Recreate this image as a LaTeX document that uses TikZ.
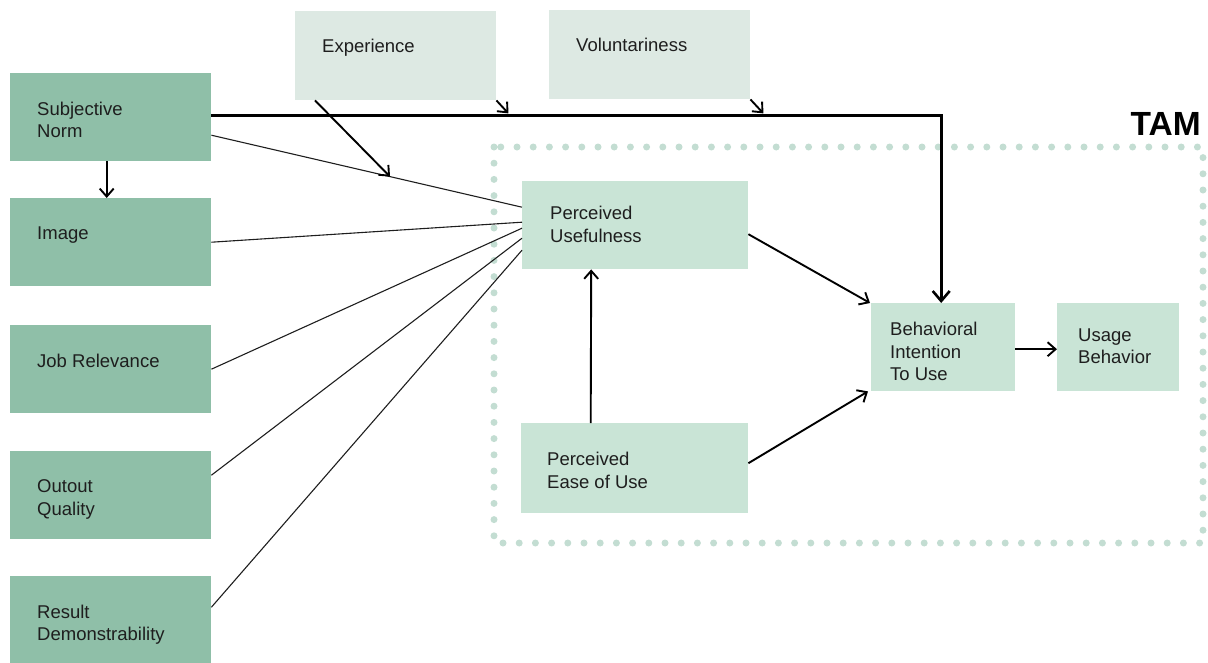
\documentclass[tikz,border=0pt]{standalone}
\usepackage{fontspec}
\setmainfont{Liberation Sans}
\usetikzlibrary{arrows.meta,calc}
\definecolor{leftgreen}{HTML}{8FBFA8}
\definecolor{topgreen}{HTML}{DDE9E3}
\definecolor{tamgreen}{HTML}{C9E4D6}
\definecolor{dotgreen}{HTML}{C3DDD2}
\definecolor{ink}{HTML}{1E1E1E}
\begin{document}
\begin{tikzpicture}[x=1pt,y=-1pt,
  lbl/.style={text=ink, font=\fontsize{18.5}{22.5}\selectfont, anchor=north west,
    inner sep=0pt, align=left},
  shape base/.style={rectangle, anchor=north west, inner sep=0pt},
  leftbox/.style={shape base, fill=leftgreen, minimum width=201pt, minimum height=88pt},
  topbox/.style={shape base, fill=topgreen, minimum width=201pt, minimum height=89pt},
  tambox/.style={shape base, fill=tamgreen},
  thin/.style={draw=ink, line width=1.1pt},
  arr/.style={draw=black, line width=1.9pt, -{Straight Barb[length=8pt,width=14pt,line width=1.9pt]}},
  bigarr/.style={draw=black, line width=3pt, -{Straight Barb[length=10pt,width=17pt,line width=2.6pt]}},
  dotted border/.style={draw=dotgreen, line width=7pt, line cap=round,
    dash pattern=on 0pt off 16.2pt}
]
\useasboundingbox (0,0) rectangle (1208,662);

% TAM frame
\draw[dotted border] (494,147) rectangle (1203,543);
\node[anchor=north east, inner sep=0pt, text=black,
  font=\fontsize{33.5}{33.5}\bfseries\selectfont] (tam) at (1201,112) {TAM};

% external variables
\node[leftbox] (sn)  at (10,73)  {};
\node[leftbox] (img) at (10,198) {};
\node[leftbox] (jr)  at (10,325) {};
\node[leftbox] (oq)  at (10,451) {};
\node[leftbox] (rd)  at (10,576) {};
\node[lbl] (snt)  at ($(sn.north west)+(27,28.5)$)  {Subjective\\Norm};
\node[lbl] (imgt) at ($(img.north west)+(27,28.5)$) {Image};
\node[lbl] (jrt)  at ($(jr.north west)+(27,28.5)$)  {Job Relevance};
\node[lbl] (oqt)  at ($(oq.north west)+(27,28.5)$)  {Outout\\Quality};
\node[lbl] (rdt)  at ($(rd.north west)+(27,28.5)$)  {Result\\Demonstrability};

% moderators
\node[topbox] (exp) at (295,11) {};
\node[topbox] (vol) at (549,10) {};
\node[lbl] (expt) at ($(exp.north west)+(27,27.5)$) {Experience};
\node[lbl] (volt) at ($(vol.north west)+(27,28)$)   {Voluntariness};

% TAM constructs
\node[tambox, minimum width=226pt, minimum height=88pt] (pu)  at (522,181) {};
\node[tambox, minimum width=227pt, minimum height=90pt] (peu) at (521,423) {};
\node[tambox, minimum width=144pt, minimum height=88pt] (bi)  at (871,303) {};
\node[tambox, minimum width=122pt, minimum height=88pt] (ub)  at (1057,303) {};
\node[lbl] (put)  at ($(pu.north west)+(28,25)$)  {Perceived\\Usefulness};
\node[lbl] (peut) at ($(peu.north west)+(26,29)$) {Perceived\\Ease of Use};
\node[lbl] (bit)  at ($(bi.north west)+(19,19)$)  {Behavioral\\Intention\\To Use};
\node[lbl] (ubt)  at ($(ub.north west)+(21,25.5)$) {Usage\\Behavior};

% determinants of perceived usefulness
\coordinate (snout) at ([yshift=-18pt]sn.east);
\coordinate (snin)  at ([yshift=18pt]pu.west);
\draw[thin] (snout) -- (snin);
\draw[thin] (img.east) -- ([yshift=3pt]pu.west);
\draw[thin] (jr.east) -- ([yshift=-3pt]pu.west);
\draw[thin] ([yshift=20pt]oq.east) -- ([yshift=-13pt]pu.west);
\draw[thin] ([yshift=13pt]rd.east) -- ([yshift=-25pt]pu.west);

% subjective norm paths
\draw[arr] ([xshift=-4pt]sn.south) -- ([xshift=-4pt]img.north);
\draw[bigarr] ([yshift=2pt]sn.east) -| ([xshift=-2pt]bi.north);

% moderating effects
\coordinate (expon) at ($(snout)!0.575!(snin)$);
\draw[arr] ([xshift=20pt]exp.south west) -- (expon);
\coordinate (expmod) at ($(exp.south east)+(12,13)$);
\coordinate (volmod) at ($(vol.south east)+(13,14)$);
\draw[arr] (exp.south east) -- (expmod);
\draw[arr] (vol.south east) -- (volmod);

% core TAM paths
\draw[arr] ([xshift=-44pt]peu.north) -- ([xshift=-44pt]pu.south);
\draw[arr] ([yshift=-9pt]pu.east) -- ([xshift=-1pt]bi.north west);
\draw[arr] ([yshift=5pt]peu.east) -- ([xshift=-3pt]bi.south west);
\draw[arr] ([yshift=-2pt]bi.east) -- ([yshift=-2pt]ub.west);
\end{tikzpicture}
\end{document}
